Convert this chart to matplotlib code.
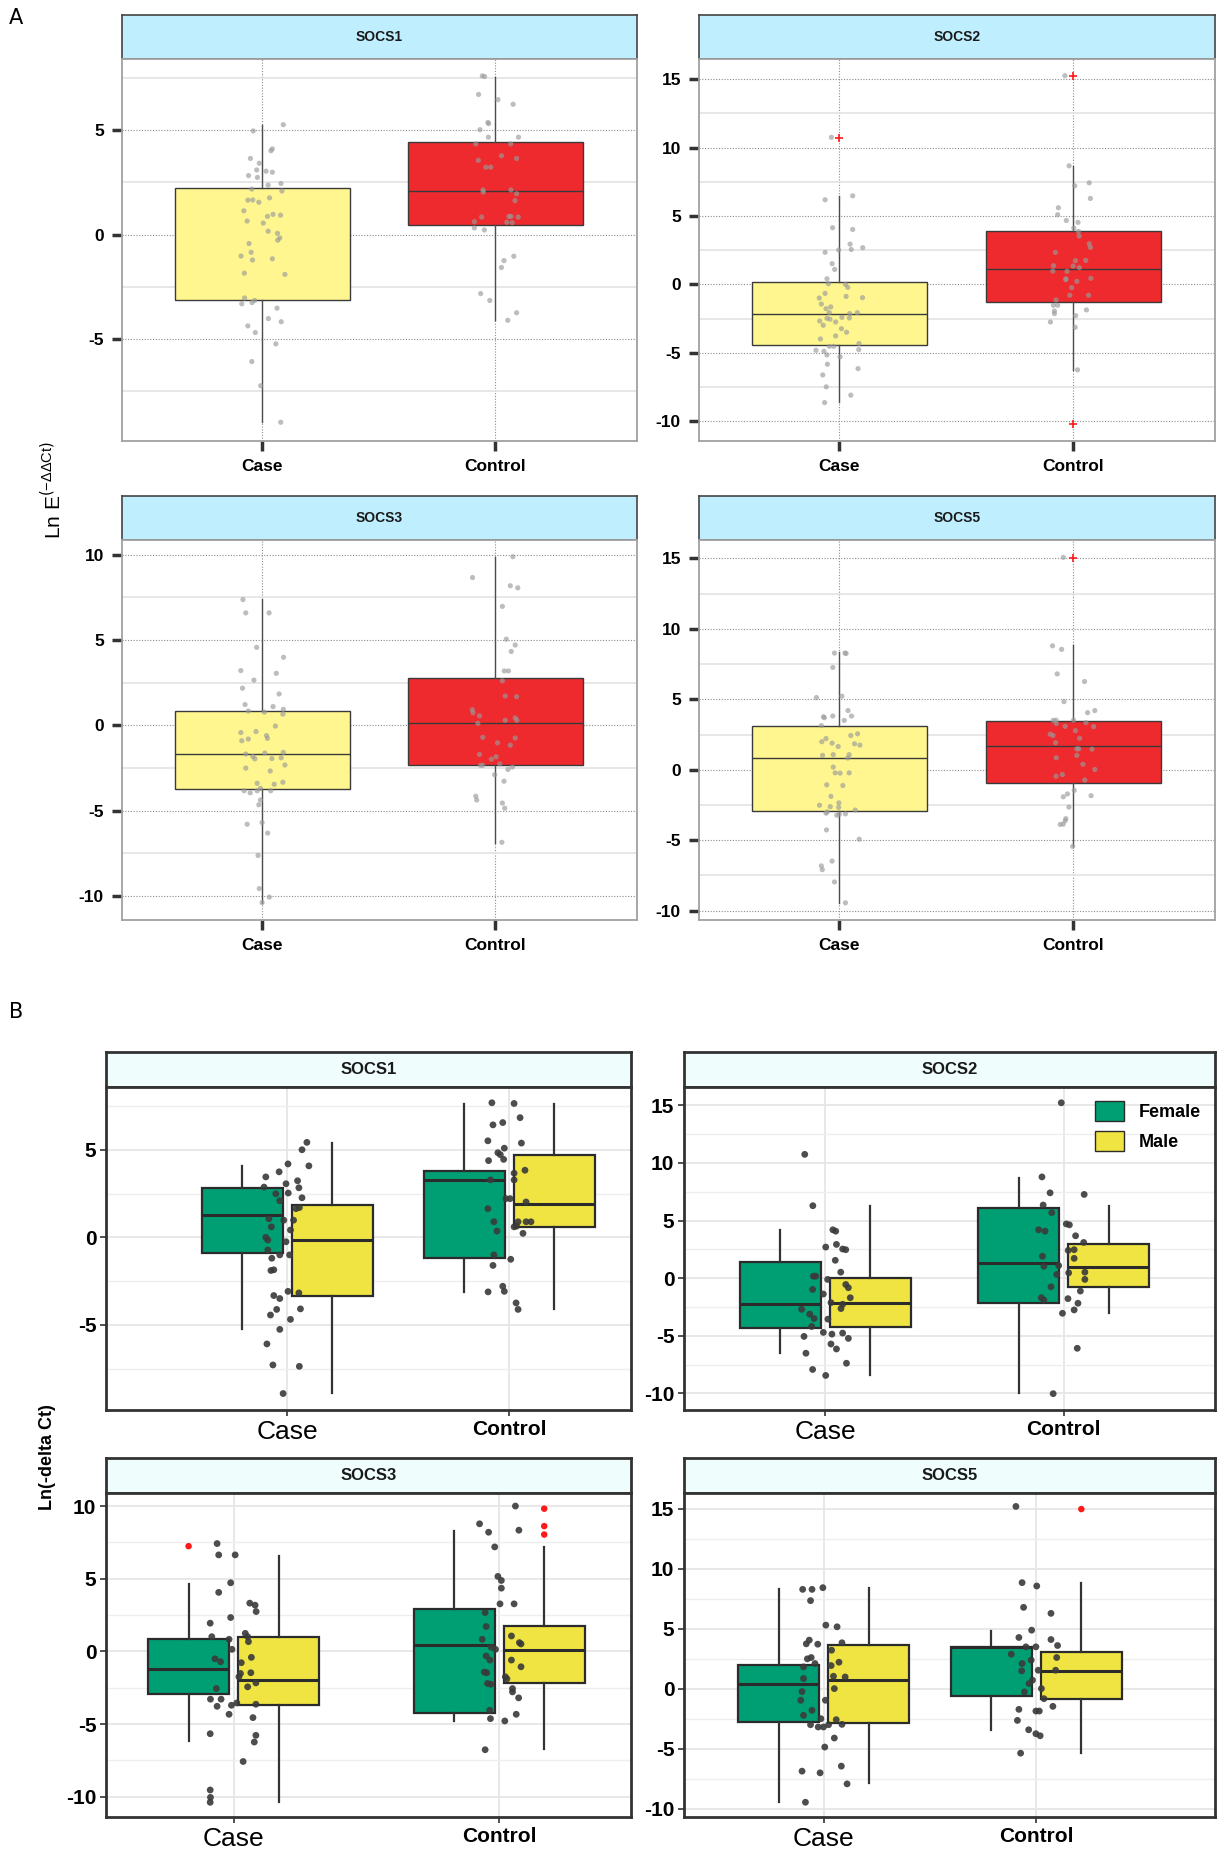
import matplotlib.pyplot as plt
from matplotlib.patches import Patch
from matplotlib.ticker import MultipleLocator

plt.rcParams["axes.unicode_minus"] = False

FIG_W, FIG_H = 1221, 1859

PALETTE = {
    "strip_a": "#bfefff",
    "strip_b": "#effdfd",
    "case_a": "#fff68f",
    "control_a": "#ee2a2e",
    "female": "#009e73",
    "male": "#f0e442",
    "ink": "#1a1a1a",
    "edge": "#333333",
    "point_a": "#9a9a9a",
    "point_b": "#3a3a3a",
    "outlier": "#ff1a1a",
}

GROUPS = ["Case", "Control"]

# ---- Panel A: box stats (whislo, q1, median, q3, whishi), median None = not drawn
A_SOCS1_CASE_BOX = [-9.0, -3.13, None, 2.25, 5.24]
A_SOCS1_CONTROL_BOX = [-4.08, 0.46, 2.09, 4.43, 7.58]
A_SOCS2_CASE_BOX = [-8.6, -4.43, -2.19, 0.15, 6.45]
A_SOCS2_CONTROL_BOX = [-6.28, -1.29, 1.09, 3.92, 8.64]
A_SOCS3_CASE_BOX = [-10.4, -3.73, -1.68, 0.82, 7.39]
A_SOCS3_CONTROL_BOX = [-6.89, -2.32, 0.16, 2.75, 9.84]
A_SOCS5_CASE_BOX = [-9.44, -2.94, 0.83, 3.08, 8.35]
A_SOCS5_CONTROL_BOX = [-5.44, -0.95, 1.72, 3.45, 8.83]

A_SOCS2_CASE_OUT = [10.7]
A_SOCS2_CONTROL_OUT = [15.2, -10.24]
A_SOCS5_CONTROL_OUT = [15.0]

# ---- Panel A: jittered points (offset from category, value)
A_SOCS1_CASE_PTS = [
    (.091, 5.27), (-.038, 4.97), (.044, 4.11), (.038, 4.02), (-.05, 3.65), (-.012, 3.42),
    (-.023, 3.1), (.017, 3.04), (.044, 2.99), (-.058, 2.83), (-.02, 2.74), (.081, 2.45),
    (.026, 2.37), (-.044, 2.18), (.085, 2.09), (-.061, 1.65), (-.04, 1.66), (-.014, 1.55),
    (.032, 1.76), (-.078, 1.14), (-.064, 0.65), (.023, 0.87), (.047, 0.97), (.079, 0.93),
    (.005, 0.55), (.026, 0.16), (.066, 0.06), (.076, -0.16), (.067, -0.27), (-.056, -0.43),
    (-.047, -0.85), (-.09, -1.03), (-.041, -1.22), (.044, -1.16), (-.076, -1.85), (.098, -1.91),
    (-.075, -3.04), (-.087, -3.32), (-.043, -3.26), (-.032, -3.16), (.064, -3.53), (.027, -4.03),
    (.082, -4.18), (-.061, -4.38), (-.029, -4.7), (.059, -5.24), (-.044, -6.09), (-.006, -7.25),
    (.08, -9.0),
]
A_SOCS1_CONTROL_PTS = [
    (-.056, 7.61), (-.046, 7.58), (-.072, 6.72), (.011, 6.47), (.076, 6.25), (-.032, 5.38),
    (-.029, 5.32), (-.066, 5.03), (-.03, 4.67), (.099, 4.67), (-.084, 4.35), (.066, 4.35),
    (.026, 3.78), (.091, 3.65), (-.073, 3.56), (-.041, 3.23), (-.02, 3.23), (-.053, 2.14),
    (-.052, 2.04), (.067, 2.14), (.091, 1.96), (.084, 1.63), (-.059, 0.84), (.058, 0.87),
    (.067, 0.87), (.098, 0.84), (-.09, 0.62), (.049, 0.59), (.072, 0.57), (-.09, 0.32),
    (-.047, 0.22), (.079, -1.04), (.037, -1.25), (.026, -1.58), (-.063, -2.83), (-.024, -3.16),
    (.091, -3.75), (.053, -4.11),
]
A_SOCS2_CASE_PTS = [
    (-.034, 10.75), (-.061, 6.18), (.057, 6.47), (-.029, 4.14), (.057, 4.01), (-.061, 2.34),
    (-.003, 2.51), (.046, 2.94), (.051, 2.55), (.1, 2.68), (-.031, 1.51), (-.02, 1.09),
    (-.053, 0.41), (-.047, 0.05), (.026, 0.0), (.036, -0.22), (-.061, -0.66), (-.086, -1.0),
    (.029, -0.88), (.099, -0.97), (-.077, -1.44), (-.057, -1.78), (-.037, -1.65), (-.043, -2.07),
    (.044, -2.14), (.077, -2.07), (-.053, -2.48), (-.04, -2.55), (.011, -2.41), (.043, -2.46),
    (-.016, -2.75), (-.084, -2.68), (-.069, -2.99), (.009, -3.24), (.031, -3.5), (-.016, -3.77),
    (-.081, -3.99), (-.043, -4.53), (-.024, -4.53), (.084, -4.33), (.083, -4.77), (-.1, -4.82),
    (-.066, -4.89), (-.053, -5.16), (.003, -5.3), (-.051, -5.84), (.08, -6.16), (-.071, -6.62),
    (-.056, -7.49), (.049, -8.1), (-.063, -8.64),
]
A_SOCS2_CONTROL_PTS = [
    (-.017, 8.66), (.069, 7.42), (.007, 7.2), (.074, 6.28), (-.063, 5.6), (-.066, 5.09),
    (-.029, 4.67), (.021, 4.53), (.003, 4.11), (.023, 3.87), (.026, 3.53), (.069, 2.97),
    (.074, 2.7), (-.076, 2.34), (.01, 1.73), (.054, 1.75), (-.084, 1.36), (-.087, 0.97),
    (0.0, 1.34), (.027, 1.22), (-.026, 0.95), (-.031, 0.41), (-.031, 0.34), (.016, 0.22),
    (.076, 0.44), (-.006, -0.24), (-.014, -0.8), (.066, -0.8), (-.073, -1.14), (-.084, -1.53),
    (-.066, -1.53), (-.08, -1.95), (-.08, -2.14), (.057, -1.87), (.011, -2.29), (-.097, -2.75),
    (.009, -3.14), (.019, -6.25), (-.035, 15.25),
]
A_SOCS3_CASE_PTS = [
    (-.082, 7.37), (-.07, 6.59), (.03, 6.59), (-.023, 4.57), (.092, 3.99), (-.091, 3.21),
    (.061, 3.05), (-.035, 2.65), (-.084, 2.18), (.073, 1.84), (-.073, 1.22), (.047, 1.1),
    (-.059, 0.84), (.091, 0.94), (.089, 0.66), (.01, 0.78), (.057, -0.04), (-.091, -0.42),
    (-.026, -0.36), (.019, -0.6), (.023, -0.76), (-.087, -0.9), (-.059, -0.8), (.012, -1.62),
    (-.07, -1.68), (.091, -1.58), (-.04, -1.82), (-.031, -1.96), (.042, -1.94), (.082, -1.9),
    (.098, -2.32), (-.07, -2.5), (.035, -2.67), (.052, -3.45), (.089, -3.33), (-.021, -3.39),
    (-.077, -3.83), (-.051, -3.95), (-.021, -3.83), (-.007, -3.69), (.037, -3.83), (-.007, -4.37),
    (-.014, -4.65), (-.064, -5.79), (0.0, -5.69), (.024, -6.31), (-.017, -7.62), (-.012, -9.56),
    (.031, -10.06), (0.0, -10.38),
]
A_SOCS3_CONTROL_PTS = [
    (.075, 9.88), (-.098, 8.66), (.064, 8.18), (.096, 8.06), (.03, 6.97), (.047, 5.05),
    (.085, 4.71), (.068, 4.33), (.038, 3.19), (.056, 3.19), (.03, 2.61), (.042, 1.72),
    (.091, 1.68), (-.099, 0.92), (-.096, 0.74), (-.068, 0.56), (.085, 0.44), (.092, 0.3),
    (.042, 0.3), (-.075, 0.12), (-.054, -0.7), (.085, -0.74), (.009, -1.02), (.064, -1.16),
    (-.068, -1.7), (.003, -1.84), (-.017, -1.98), (-.064, -2.34), (-.054, -2.34), (.019, -2.26),
    (.073, -2.44), (.054, -2.58), (-.003, -2.89), (.037, -3.27), (-.084, -4.15), (-.08, -4.37),
    (.03, -4.55), (.04, -4.85), (.028, -6.85),
]
A_SOCS5_CASE_PTS = [
    (-.021, 8.28), (.024, 8.28), (.029, 8.25), (-.028, 7.26), (-.098, 5.12), (.011, 5.22),
    (-.068, 3.76), (-.064, 3.69), (-.028, 3.81), (.037, 4.2), (.052, 3.81), (.021, 3.5),
    (-.077, 3.13), (.078, 2.55), (.049, 2.43), (-.057, 2.21), (-.075, 1.99), (-.031, 1.89),
    (.065, 1.84), (.088, 1.75), (-.005, 1.65), (-.072, 1.02), (-.026, 1.07), (.042, 1.07),
    (.036, 0.83), (-.026, 0.19), (-.018, -0.22), (.003, -0.24), (.042, -0.22), (-.054, -1.07),
    (.015, -1.12), (-.036, -1.89), (-.085, -2.52), (-.039, -2.62), (-.002, -2.35), (-.003, -2.67),
    (.068, -2.86), (-.057, -3.08), (-.052, -2.99), (-.011, -3.23), (0.0, -3.16), (.026, -3.13),
    (-.055, -4.27), (.085, -4.93), (-.031, -6.48), (-.077, -6.82), (-.073, -7.09), (-.021, -7.96),
    (.026, -9.44),
]
A_SOCS5_CONTROL_PTS = [
    (-.042, 15.07), (-.088, 8.79), (-.049, 8.54), (-.068, 6.8), (.049, 6.26), (-.039, 4.83),
    (.062, 4.05), (.093, 4.2), (-.085, 3.5), (-.073, 3.52), (.002, 3.52), (.055, 3.35),
    (-.072, 3.28), (-.034, 3.08), (.088, 3.06), (.01, 2.77), (-.098, 2.52), (-.086, 2.43),
    (.028, 2.23), (-.075, 1.92), (.016, 1.48), (.024, 1.48), (.081, 1.46), (.016, 1.02),
    (-.072, 0.85), (.042, 0.39), (.093, 0.02), (-.073, -0.46), (-.046, -0.34), (.05, -0.73),
    (.005, -1.46), (-.024, -1.72), (-.042, -1.92), (.077, -1.84), (-.018, -2.65), (-.031, -3.47),
    (-.034, -3.62), (-.055, -3.88), (-.042, -3.86), (-.002, -5.44),
]

# ---- Panel B: box stats per sex (whislo, q1, median, q3, whishi)
B_SOCS1_CASE_F = [-5.2, -0.91, 1.25, 2.83, 4.08]
B_SOCS1_CASE_M = [-8.87, -3.36, -0.15, 1.83, 5.36]
B_SOCS1_CONTROL_F = [-3.09, -1.17, 3.25, 3.79, 7.62]
B_SOCS1_CONTROL_M = [-4.11, 0.6, 1.92, 4.68, 7.62]
B_SOCS2_CASE_F = [-6.52, -4.37, -2.27, 1.44, 4.14]
B_SOCS2_CASE_M = [-8.45, -4.2, -2.13, 0.0, 6.26]
B_SOCS2_CONTROL_F = [-9.94, -2.13, 1.32, 6.09, 8.74]
B_SOCS2_CONTROL_M = [-2.99, -0.75, 0.95, 2.99, 6.26]
B_SOCS3_CASE_F = [-6.18, -2.95, -1.24, 0.83, 4.65]
B_SOCS3_CASE_M = [-10.35, -3.69, -1.94, 0.97, 6.59]
B_SOCS3_CONTROL_F = [-4.79, -4.24, 0.46, 2.9, 8.29]
B_SOCS3_CONTROL_M = [-6.73, -2.21, 0.09, 1.75, 7.19]
B_SOCS5_CASE_F = [-9.42, -2.76, 0.42, 2.0, 8.3]
B_SOCS5_CASE_M = [-7.88, -2.87, 0.75, 3.62, 8.38]
B_SOCS5_CONTROL_F = [-3.43, -0.61, 3.43, 3.43, 4.82]
B_SOCS5_CONTROL_M = [-5.35, -0.84, 1.48, 3.06, 8.77]

B_SOCS3_CASE_F_OUT = [7.24]
B_SOCS3_CONTROL_M_OUT = [9.82, 8.62, 8.04]
B_SOCS5_CONTROL_M_OUT = [14.96]

B_SOCS1_CASE_PTS = [
    (.089, 5.42), (.067, 5.0), (.004, 4.19), (.098, 4.08), (-.036, 3.74), (-.096, 3.45),
    (.047, 3.23), (-.005, 3.06), (.053, 2.83), (-.104, 2.87), (-.051, 2.49), (.005, 2.53),
    (.067, 2.26), (-.033, 2.09), (.04, 1.64), (.055, 1.7), (-.082, 1.06), (-.015, 0.98),
    (.029, 0.98), (-.071, 0.6), (.015, 0.42), (-.096, 0.0), (-.087, -0.15), (-.005, -0.25),
    (-.087, -0.72), (-.033, -1.0), (-.069, -1.19), (.011, -1.0), (-.073, -1.89), (-.06, -1.85),
    (.004, -3.08), (.053, -3.17), (-.06, -3.32), (-.033, -3.49), (.06, -4.08), (-.047, -4.11),
    (-.075, -4.43), (.015, -4.68), (-.033, -5.25), (-.091, -6.08), (-.064, -7.28), (.055, -7.36),
    (-.018, -8.91),
]
B_SOCS1_CONTROL_PTS = [
    (-.078, 7.68), (.022, 7.64), (.049, 6.83), (-.073, 6.42), (-.029, 6.55), (-.096, 5.51),
    (.055, 5.38), (-.022, 5.09), (-.051, 4.83), (-.04, 4.72), (-.093, 4.38), (-.025, 4.45),
    (.071, 3.83), (.022, 3.66), (-.084, 3.28), (.022, 3.28), (-.015, 2.21), (.004, 2.21),
    (.076, 2.02), (-.096, 1.64), (-.069, 0.89), (.04, 0.89), (.076, 0.89), (.098, 0.89),
    (.022, 0.6), (.033, 0.64), (-.055, 0.36), (.062, 0.23), (-.069, -1.0), (.007, -1.25),
    (-.073, -1.6), (-.029, -2.79), (-.022, -3.08), (-.095, -3.11), (.031, -3.74), (.04, -4.11),
]
B_SOCS2_CASE_PTS = [
    (-.086, 10.75), (-.052, 6.29), (.032, 4.2), (.044, 4.08), (.002, 2.7), (.047, 2.93),
    (.073, 2.53), (.086, 2.47), (.042, 1.55), (-.05, 0.17), (-.04, 0.17), (.065, 0.52),
    (.01, -0.11), (.086, -0.55), (.097, -0.83), (-.053, -0.98), (-.008, -1.38), (.105, -1.7),
    (.024, -2.13), (.073, -2.27), (.066, -2.64), (-.099, -2.7), (-.065, -3.13), (-.047, -3.51),
    (.011, -3.56), (-.057, -4.2), (-.089, -5.06), (-.008, -4.71), (.028, -4.86), (.073, -4.77),
    (.097, -5.23), (.024, -5.72), (.047, -6.15), (-.081, -6.52), (.089, -7.39), (-.053, -7.93),
    (.002, -8.45),
]
B_SOCS2_CONTROL_PTS = [
    (-.01, 15.23), (-.091, 8.79), (-.057, 7.41), (.086, 7.27), (-.086, 6.35), (-.05, 5.69),
    (.011, 4.71), (.024, 4.63), (-.105, 4.2), (-.078, 4.08), (.05, 3.68), (.084, 3.1),
    (.019, 2.41), (.044, 2.47), (-.089, 1.9), (.044, 1.72), (-.083, 1.03), (-.021, 1.09),
    (.021, 0.46), (-.029, 0.32), (.089, 0.52), (.089, -0.11), (-.053, -0.75), (.07, -1.12),
    (-.094, -1.7), (-.083, -1.9), (.018, -1.78), (.06, -2.18), (.044, -2.76), (-.005, -3.05),
    (.057, -6.09), (-.044, -10.03),
]
B_SOCS3_CASE_PTS = [
    (-.062, 7.42), (-.056, 6.64), (.006, 6.64), (-.011, 4.72), (-.056, 4.06), (.061, 3.32),
    (.081, 3.18), (.085, 2.74), (-.011, 2.33), (-.088, 1.94), (-.082, 1.01), (.044, 1.24),
    (.053, 1.01), (-.017, 0.83), (.056, 0.67), (-.006, 0.14), (-.07, -0.51), (-.049, -0.71),
    (.067, -0.41), (.029, -0.78), (.026, -1.52), (.02, -1.75), (.065, -1.47), (.084, -2.17),
    (.053, -2.44), (-.065, -2.56), (-.087, -3.29), (-.047, -3.29), (-.062, -3.78), (-.008, -3.71),
    (.012, -3.55), (.084, -3.64), (-.017, -4.33), (.073, -4.56), (-.088, -5.67), (.084, -5.78),
    (.078, -6.24), (.036, -7.58), (-.088, -9.54), (-.087, -10.05), (-.088, -10.39),
]
B_SOCS3_CONTROL_PTS = [
    (.061, 10.0), (-.074, 8.78), (.074, 8.34), (-.04, 8.2), (-.017, 7.19), (-.005, 5.16),
    (.008, 4.88), (.008, 4.35), (.003, 3.27), (.056, 3.27), (-.053, 2.67), (-.049, 1.71),
    (.046, 1.06), (-.064, 0.83), (.076, 0.6), (.082, 0.51), (-.03, 0.28), (-.014, 0.14),
    (-.049, -0.32), (.046, -0.6), (-.035, -0.6), (.082, -1.06), (-.056, -1.43), (-.047, -1.47),
    (.023, -1.75), (.029, -1.89), (-.044, -2.21), (-.032, -2.26), (.05, -2.56), (.05, -2.79),
    (.073, -3.2), (-.036, -4.06), (.064, -4.33), (-.033, -4.63), (.021, -4.79), (-.053, -6.77),
]
B_SOCS5_CASE_PTS = [
    (-.1, 8.27), (-.056, 8.27), (-.005, 8.41), (-.063, 7.33), (.009, 5.29), (.062, 5.15),
    (-.083, 3.73), (-.069, 4.04), (-.029, 3.7), (.085, 3.82), (.036, 3.2), (-.06, 2.59),
    (-.078, 2.48), (.071, 2.2), (-.042, 2.09), (-.096, 1.81), (.034, 1.92), (.1, 0.97),
    (-.096, 0.84), (.045, 1.03), (.049, 0.0), (-.103, -0.25), (-.109, -0.97), (.007, -0.97),
    (-.056, -1.81), (-.096, -2.23), (-.014, -2.51), (.058, -2.59), (-.063, -3.01), (-.027, -3.2),
    (-.002, -3.2), (.022, -3.01), (.085, -2.98), (.049, -4.12), (.004, -4.87), (.082, -6.46),
    (-.103, -6.88), (-.018, -7.02), (.109, -7.94), (-.087, -9.47),
]
B_SOCS5_CONTROL_PTS = [
    (-.096, 15.18), (-.067, 8.83), (.002, 8.55), (-.06, 6.77), (.069, 6.27), (-.022, 4.87),
    (-.082, 4.26), (.069, 4.09), (.1, 3.59), (-.049, 3.48), (-.002, 3.48), (-.118, 2.87),
    (.096, 2.59), (-.024, 2.37), (-.067, 2.09), (.091, 1.53), (-.069, 1.48), (.009, 1.53),
    (-.018, 0.7), (-.034, 0.42), (.024, 0.0), (-.056, -0.28), (.036, -0.84), (.078, -1.48),
    (-.082, -1.73), (-.002, -1.87), (.014, -1.87), (-.089, -2.65), (-.036, -3.43), (-.002, -3.76),
    (.018, -3.93), (-.074, -5.38),
]

FONT = "Liberation Sans"


def px_axes(fig, x0, y0, x1, y1):
    return fig.add_axes([x0 / FIG_W, 1 - y1 / FIG_H, (x1 - x0) / FIG_W, (y1 - y0) / FIG_H])


def cat_xlim(c1, c2):
    span = 1.0 / (c2 - c1)
    left = 1.0 - c1 * span
    return left, left + span


def draw_box(ax, pos, stats, width, face, edge, lw, med_lw, whisk_color):
    lo, q1, med, q3, hi = stats
    st = {"whislo": lo, "q1": q1, "med": q1 if med is None else med, "q3": q3, "whishi": hi, "fliers": []}
    ax.bxp(
        [st], positions=[pos], widths=[width], patch_artist=True, showcaps=False, showfliers=False,
        boxprops=dict(facecolor=face, edgecolor=edge, linewidth=lw),
        medianprops=dict(color="none" if med is None else edge, linewidth=med_lw),
        whiskerprops=dict(color=whisk_color, linewidth=lw),
        manage_ticks=False, zorder=2,
    )


def add_strip(fig, x0, y0, x1, y1, text, color, edge, lw, size):
    sax = px_axes(fig, x0, y0, x1, y1)
    sax.set_facecolor(color)
    sax.set_xticks([])
    sax.set_yticks([])
    for spine in sax.spines.values():
        spine.set_color(edge)
        spine.set_linewidth(lw)
    sax.text(0.5, 0.5, text, ha="center", va="center", fontsize=size, fontweight="bold",
             family=FONT, color=PALETTE["ink"], transform=sax.transAxes)


def panel_a(fig, rect, gene, ylim, case_box, ctrl_box, case_pts, ctrl_pts, case_out, ctrl_out):
    x0, y0, x1, y1 = rect
    add_strip(fig, x0, y0 - 44, x1, y0, gene, PALETTE["strip_a"], "#444444", 1.2, 10)
    ax = px_axes(fig, x0, y0, x1, y1)
    xlim = cat_xlim(0.272, 0.725)
    ax.set_xlim(*xlim)
    ax.set_ylim(*ylim)
    upp = (xlim[1] - xlim[0]) / (x1 - x0)
    ax.yaxis.set_major_locator(MultipleLocator(5))
    ax.yaxis.set_minor_locator(MultipleLocator(2.5))
    ax.grid(True, which="major", axis="y", color="#8c8c8c", linestyle=(0, (1, 1.5)), linewidth=0.8, zorder=0)
    ax.grid(True, which="minor", axis="y", color="#e3e3e3", linestyle="-", linewidth=1.2, zorder=0)
    ax.tick_params(axis="y", which="minor", length=0)
    for pos in (1, 2):
        ax.axvline(pos, color="#8c8c8c", linestyle=(0, (1, 1.5)), linewidth=0.8, zorder=0)
    faces = [PALETTE["case_a"], PALETTE["control_a"]]
    for pos, box, pts, outs, face in zip((1, 2), (case_box, ctrl_box), (case_pts, ctrl_pts),
                                         (case_out, ctrl_out), faces):
        draw_box(ax, pos, box, 175 * upp, face, "#3a3a3a", 1.0, 1.0, "#4d4d4d")
        ax.scatter([pos + d for d, _ in pts], [v for _, v in pts], s=14, color=PALETTE["point_a"],
                   alpha=0.65, edgecolors="none", zorder=3)
        if outs:
            ax.scatter([pos] * len(outs), outs, marker="+", s=40, color=PALETTE["outlier"],
                       linewidths=1.2, zorder=4)
    ax.set_xticks([1, 2])
    ax.set_xticklabels(GROUPS)
    ax.tick_params(axis="both", which="major", length=7, width=2.5, color="#333333", pad=6)
    for lab in ax.get_xticklabels() + ax.get_yticklabels():
        lab.set_fontweight("bold")
        lab.set_fontsize(12.5)
        lab.set_family(FONT)
    for spine in ax.spines.values():
        spine.set_color("#a0a0a0")
        spine.set_linewidth(1.3)
    return ax


def panel_b(fig, rect, gene, ylim, cats, boxes, pts_list, outs, legend=False):
    x0, y0, x1, y1 = rect
    add_strip(fig, x0, y0 - 35, x1, y0, gene, PALETTE["strip_b"], "#333333", 2.0, 12)
    ax = px_axes(fig, x0, y0, x1, y1)
    xlim = cat_xlim(*cats)
    ax.set_xlim(*xlim)
    ax.set_ylim(*ylim)
    upp = (xlim[1] - xlim[0]) / (x1 - x0)
    dodge = 45 * upp
    ax.yaxis.set_major_locator(MultipleLocator(5))
    ax.yaxis.set_minor_locator(MultipleLocator(2.5))
    ax.grid(True, which="major", color="#e6e6e6", linewidth=1.3, zorder=0)
    ax.grid(True, which="minor", axis="y", color="#eeeeee", linewidth=1.0, zorder=0)
    ax.tick_params(axis="y", which="minor", length=0)
    colors = [PALETTE["female"], PALETTE["male"]]
    for ci, pos in enumerate((1, 2)):
        for si, sign in enumerate((-1, 1)):
            draw_box(ax, pos + sign * dodge, boxes[ci][si], 81 * upp, colors[si], "#2b2b2b", 1.6, 2.2, "#333333")
            o = outs[ci][si]
            if o:
                ax.scatter([pos + sign * dodge] * len(o), o, s=22, color=PALETTE["outlier"],
                           edgecolors="none", zorder=3)
        pts = pts_list[ci]
        ax.scatter([pos + d for d, _ in pts], [v for _, v in pts], s=24, color=PALETTE["point_b"],
                   edgecolors="none", alpha=0.9, zorder=4)
    ax.set_xticks([1, 2])
    ax.set_xticklabels(GROUPS)
    ax.tick_params(axis="both", which="major", length=4, width=1.2, color="#333333", pad=3)
    for lab in ax.get_yticklabels():
        lab.set_fontweight("bold")
        lab.set_fontsize(15)
        lab.set_family(FONT)
    case_lab, ctrl_lab = ax.get_xticklabels()
    case_lab.set_fontsize(19)
    case_lab.set_family(FONT)
    ctrl_lab.set_fontsize(15)
    ctrl_lab.set_fontweight("bold")
    ctrl_lab.set_family(FONT)
    for spine in ax.spines.values():
        spine.set_color("#333333")
        spine.set_linewidth(2.0)
    if legend:
        handles = [Patch(facecolor=PALETTE["female"], edgecolor="#2b2b2b", label="Female"),
                   Patch(facecolor=PALETTE["male"], edgecolor="#2b2b2b", label="Male")]
        ax.legend(handles=handles, loc="upper right", bbox_to_anchor=(1.0, 1.0), frameon=False,
                  prop={"family": FONT, "weight": "bold", "size": 13}, handlelength=1.6,
                  handleheight=1.3, labelspacing=0.55, borderaxespad=0.4)
    return ax


fig = plt.figure(figsize=(FIG_W / 100, FIG_H / 100), dpi=100)
fig.patch.set_facecolor("white")

# ---- Panel A
A_COL = [(122, 637), (699, 1215)]
A_ROW = [(59, 441), (540, 920)]
panel_a(fig, (A_COL[0][0], A_ROW[0][0], A_COL[0][1], A_ROW[0][1]), "SOCS1", (-9.9, 8.42),
        A_SOCS1_CASE_BOX, A_SOCS1_CONTROL_BOX, A_SOCS1_CASE_PTS, A_SOCS1_CONTROL_PTS, [], [])
panel_a(fig, (A_COL[1][0], A_ROW[0][0], A_COL[1][1], A_ROW[0][1]), "SOCS2", (-11.45, 16.47),
        A_SOCS2_CASE_BOX, A_SOCS2_CONTROL_BOX, A_SOCS2_CASE_PTS, A_SOCS2_CONTROL_PTS,
        A_SOCS2_CASE_OUT, A_SOCS2_CONTROL_OUT)
panel_a(fig, (A_COL[0][0], A_ROW[1][0], A_COL[0][1], A_ROW[1][1]), "SOCS3", (-11.4, 10.86),
        A_SOCS3_CASE_BOX, A_SOCS3_CONTROL_BOX, A_SOCS3_CASE_PTS, A_SOCS3_CONTROL_PTS, [], [])
panel_a(fig, (A_COL[1][0], A_ROW[1][0], A_COL[1][1], A_ROW[1][1]), "SOCS5", (-10.66, 16.3),
        A_SOCS5_CASE_BOX, A_SOCS5_CONTROL_BOX, A_SOCS5_CASE_PTS, A_SOCS5_CONTROL_PTS,
        [], A_SOCS5_CONTROL_OUT)

fig.text(9 / FIG_W, 1 - 18 / FIG_H, "A", fontsize=15, family="DejaVu Sans", va="center", ha="left")
fig.text(53 / FIG_W, 1 - 490 / FIG_H, r"Ln E$^{(\mathregular{-\Delta\Delta Ct})}$", rotation=90,
         fontsize=15, family=FONT, va="center", ha="center")

# ---- Panel B
B_COL = [(106, 631), (684, 1215)]
B_ROW = [(1087, 1410), (1493, 1817)]
panel_b(fig, (B_COL[0][0], B_ROW[0][0], B_COL[0][1], B_ROW[0][1]), "SOCS1", (-9.85, 8.58), (0.345, 0.768),
        [(B_SOCS1_CASE_F, B_SOCS1_CASE_M), (B_SOCS1_CONTROL_F, B_SOCS1_CONTROL_M)],
        [B_SOCS1_CASE_PTS, B_SOCS1_CONTROL_PTS], [([], []), ([], [])])
panel_b(fig, (B_COL[1][0], B_ROW[0][0], B_COL[1][1], B_ROW[0][1]), "SOCS2", (-11.45, 16.6), (0.266, 0.715),
        [(B_SOCS2_CASE_F, B_SOCS2_CASE_M), (B_SOCS2_CONTROL_F, B_SOCS2_CONTROL_M)],
        [B_SOCS2_CASE_PTS, B_SOCS2_CONTROL_PTS], [([], []), ([], [])], legend=True)
panel_b(fig, (B_COL[0][0], B_ROW[1][0], B_COL[0][1], B_ROW[1][1]), "SOCS3", (-11.4, 10.9), (0.243, 0.749),
        [(B_SOCS3_CASE_F, B_SOCS3_CASE_M), (B_SOCS3_CONTROL_F, B_SOCS3_CONTROL_M)],
        [B_SOCS3_CASE_PTS, B_SOCS3_CONTROL_PTS], [(B_SOCS3_CASE_F_OUT, []), ([], B_SOCS3_CONTROL_M_OUT)])
panel_b(fig, (B_COL[1][0], B_ROW[1][0], B_COL[1][1], B_ROW[1][1]), "SOCS5", (-10.7, 16.3), (0.2635, 0.6635),
        [(B_SOCS5_CASE_F, B_SOCS5_CASE_M), (B_SOCS5_CONTROL_F, B_SOCS5_CONTROL_M)],
        [B_SOCS5_CASE_PTS, B_SOCS5_CONTROL_PTS], [([], []), ([], B_SOCS5_CONTROL_M_OUT)])

fig.text(9 / FIG_W, 1 - 1012 / FIG_H, "B", fontsize=15, family="DejaVu Sans", va="center", ha="left")
fig.text(47 / FIG_W, 1 - 1457 / FIG_H, "Ln(-delta Ct)", rotation=90, fontsize=13, fontweight="bold",
         family=FONT, va="center", ha="center")

fig.savefig("out.png", dpi=100, facecolor="white")
